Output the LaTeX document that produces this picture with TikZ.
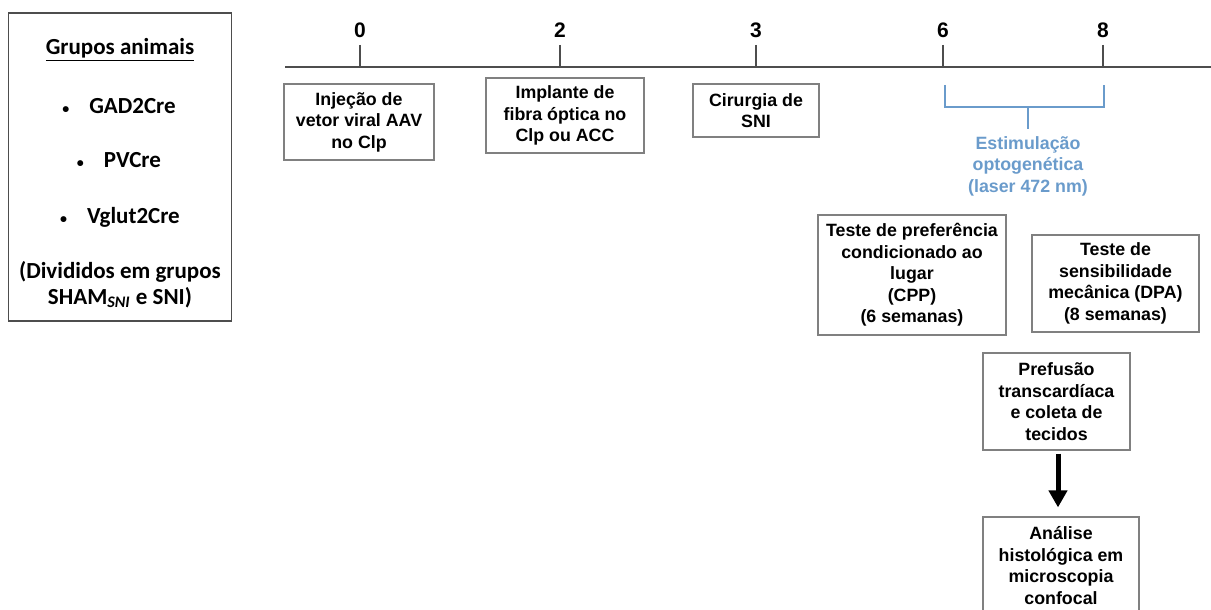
\documentclass[tikz,border=0pt]{standalone}
\usepackage{fontspec}
\setmainfont{Liberation Sans}
\newfontfamily\calibri{Carlito}
\usetikzlibrary{arrows.meta}

\definecolor{boxgray}{HTML}{808080}
\definecolor{axisgray}{HTML}{4D4D4D}
\definecolor{stimblue}{HTML}{6A9BCB}

\newcommand{\grpbullet}{{\fontsize{7}{7}\selectfont\textbullet}\hspace{10pt}}

\tikzset{
	stage/.style={draw=boxgray, line width=0.6pt, align=center, inner sep=0pt,
		font=\fontsize{8.9}{10.8}\selectfont\bfseries},
	week/.style={font=\fontsize{10.5}{12}\selectfont\bfseries},
	grp/.style={font=\calibri\fontsize{11.5}{13}\selectfont\bfseries, align=center}
}

\begin{document}
\begin{tikzpicture}[x=0.5pt, y=-0.5pt]
		\useasboundingbox (0,0) rectangle (1211,610);

		% animal groups
		\node (grupos) [draw=axisgray, line width=0.6pt, minimum width=111.5pt, minimum height=154pt] at (120,167) {};
		\node (titulo) [grp] at (120,50) {\underline{Grupos animais}};
		\node (gad) [grp] at (119,106) {\grpbullet GAD2Cre};
		\node (pv) [grp] at (119,160) {\grpbullet PVCre};
		\node (vglut) [grp] at (120,217) {\grpbullet Vglut2Cre};
		\node (divididos) [grp] at (120,284.5) {(Divididos em grupos\\SHAM\textsubscript{\textit{SNI}} e SNI)};

		% timeline (weeks)
		\draw[axisgray, line width=0.8pt] (285,67) -- (1211,67);
		\node (wZero) [week] at (360,30) {0};
		\node (wTwo) [week] at (560,30) {2};
		\node (wThree) [week] at (756,30) {3};
		\node (wSix) [week] at (943,30) {6};
		\node (wEight) [week] at (1103,30) {8};
		\draw[axisgray, line width=0.6pt] (360,45) -- (360,67);
		\draw[axisgray, line width=0.6pt] (560,45) -- (560,67);
		\draw[axisgray, line width=0.6pt] (756,45) -- (756,67);
		\draw[axisgray, line width=0.6pt] (943,45) -- (943,67);
		\draw[axisgray, line width=0.6pt] (1103,45) -- (1103,67);

		% stages
		\node (injecao) [stage, minimum width=75pt, minimum height=38pt] at (359,122) {Injeção de\\vetor viral AAV\\no Clp};
		\node (implante) [stage, minimum width=79pt, minimum height=37.5pt] at (565,115.5) {Implante de\\fibra óptica no\\Clp ou ACC};
		\node (cirurgia) [stage, minimum width=63pt, minimum height=26.5pt] at (756,110.5) {Cirurgia de\\SNI};

		% optogenetic stimulation bracket
		\node (stim) [align=center, text=stimblue, font=\fontsize{8.9}{10.8}\selectfont\bfseries, inner sep=0pt] at (1028,166) {Estimulação\\optogenética\\(laser 472 nm)};
		\draw[stimblue, line width=1.3pt] (945,85) -- (945,107) -- (1104,107) -- (1104,85);
		\draw[stimblue, line width=1.3pt] (1028,107) -- (1028,129);

		\node (cpp) [stage, minimum width=94pt, minimum height=60pt] at (912,275) {Teste de preferência\\condicionado ao\\lugar\\(CPP)\\(6 semanas)};
		\node (dpa) [stage, minimum width=83.5pt, minimum height=48.5pt] at (1115.5,283.5) {Teste de\\sensibilidade\\mecânica (DPA)\\(8 semanas)};
		\node (prefusao) [stage, minimum width=73.5pt, minimum height=48.5pt] at (1056.5,401.5) {Prefusão\\transcardíaca\\e coleta de\\tecidos};
		\node (analise) [stage, minimum width=78pt, minimum height=48.5pt] at (1061,565.5) {Análise\\histológica em\\microscopia\\confocal};

		\draw[-{Triangle[width=9pt, length=8.5pt]}, line width=2.5pt, shorten <=1.5pt, shorten >=4.5pt] (prefusao.south -| 1058,0) -- (analise.north -| 1058,0);
	\end{tikzpicture}
\end{document}
